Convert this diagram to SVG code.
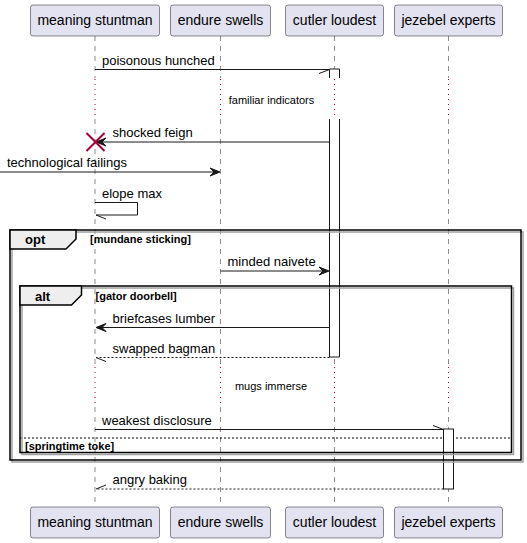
<svg xmlns="http://www.w3.org/2000/svg" width="527" height="543" viewBox="0 0 527 543">
<style>
.p{fill:#E2E2F0;stroke:#181818;stroke-width:0.5}
.pt{font-family:"Liberation Sans",Arial,sans-serif;font-size:14px;fill:#000;text-anchor:middle}
.ll{stroke:#181818;stroke-width:0.5;stroke-dasharray:5 5;fill:none}
.dl{stroke:#A80036;stroke-width:1;stroke-dasharray:1 4;fill:none}
.act{fill:#FFFFFF;stroke:#181818;stroke-width:1}
.m{stroke:#181818;stroke-width:1;fill:none}
.r{stroke:#181818;stroke-width:1;fill:none;stroke-dasharray:2 2}
.ah{fill:#181818;stroke:#181818;stroke-width:1}
.mt{font-family:"Liberation Sans",Arial,sans-serif;font-size:13px;fill:#000}
.dt{font-family:"Liberation Sans",Arial,sans-serif;font-size:11px;fill:#000;text-anchor:middle}
.fr{fill:none;stroke:#000;stroke-width:1.5}
.sh{fill:none;stroke:#A0A0A0;stroke-width:1.5}
.tab{fill:#EEEEEE;stroke:#000;stroke-width:1.5}
.ft{font-family:"Liberation Sans",Arial,sans-serif;font-size:13px;font-weight:bold;fill:#000}
.gt{font-family:"Liberation Sans",Arial,sans-serif;font-size:11px;font-weight:bold;fill:#000}
.sep{stroke:#000;stroke-width:1;stroke-dasharray:2 2;fill:none}
.x{stroke:#A80036;stroke-width:2;fill:none}
</style>
<g id="lifelines">
<path class="ll" d="M95,36V78M95,119V366M95,407V507"/>
<path class="ll" d="M220.5,36V78M220.5,119V366M220.5,407V507"/>
<path class="ll" d="M334.5,36V78M334.5,119V366M334.5,407V507"/>
<path class="ll" d="M448.5,36V78M448.5,119V366M448.5,407V507"/>
<path class="dl" d="M95,79V119M220.5,79V119M334.5,79V119M448.5,79V119"/>
<path class="dl" d="M95,367V407M220.5,367V407M334.5,367V407M448.5,367V407"/>
</g>
<path class="sep" d="M20,438H511.5"/>
<g id="activations">
<path class="act" d="M329.5,78V69H339.5V78"/>
<path class="act" d="M329.5,119V357H339.5V119"/>
<rect class="act" x="443.5" y="429" width="10" height="60"/>
</g>
<g id="frame-opt">
<rect class="sh" x="12" y="232" width="511" height="230"/>
<rect class="fr" x="10" y="230" width="511" height="230"/>
<path class="tab" d="M10,230H76V239L66,249H10Z"/>
<text class="ft" x="25" y="244">opt</text>
<text class="gt" x="90" y="243">[mundane sticking]</text>
</g>
<g id="frame-alt">
<rect class="sh" x="22" y="288" width="491.5" height="166.5"/>
<rect class="fr" x="20" y="286" width="491.5" height="166.5"/>
<path class="tab" d="M20,286H81.5V295L71.5,305H20Z"/>
<text class="ft" x="35" y="300.5">alt</text>
<text class="gt" x="95.5" y="299.5">[gator doorbell]</text>
<text class="gt" x="25" y="449.5">[springtime toke]</text>
</g>
<g id="p-meaning">
<rect class="p" x="30.5" y="5" width="129" height="31" rx="2.5"/>
<text class="pt" x="95" y="25">meaning stuntman</text>
<rect class="p" x="30.5" y="507" width="129" height="31" rx="2.5"/>
<text class="pt" x="95" y="527">meaning stuntman</text>
</g>
<g id="p-endure">
<rect class="p" x="170.5" y="5" width="100" height="31" rx="2.5"/>
<text class="pt" x="220.5" y="25">endure swells</text>
<rect class="p" x="170.5" y="507" width="100" height="31" rx="2.5"/>
<text class="pt" x="220.5" y="527">endure swells</text>
</g>
<g id="p-cutler">
<rect class="p" x="285.5" y="5" width="98" height="31" rx="2.5"/>
<text class="pt" x="334.5" y="25">cutler loudest</text>
<rect class="p" x="285.5" y="507" width="98" height="31" rx="2.5"/>
<text class="pt" x="334.5" y="527">cutler loudest</text>
</g>
<g id="p-jezebel">
<rect class="p" x="394.5" y="5" width="108" height="31" rx="2.5"/>
<text class="pt" x="448.5" y="25">jezebel experts</text>
<rect class="p" x="394.5" y="507" width="108" height="31" rx="2.5"/>
<text class="pt" x="448.5" y="527">jezebel experts</text>
</g>
<g id="delays">
<text class="dt" x="271.5" y="104">familiar indicators</text>
<text class="dt" x="271" y="390">mugs immerse</text>
</g>
<g id="connectors">
<path class="m" d="M95,69.5H329.5M329.5,69.5L319,73.5"/>
<text class="mt" x="102" y="64.5">poisonous hunched</text>
<path class="m" d="M329.5,142H97"/>
<polygon class="ah" points="96,142 106,138 102,142 106,146"/>
<text class="mt" x="112.5" y="137">shocked feign</text>
<path class="x" d="M86.5,133L104.5,151M86.5,151L104.5,133"/>
<path class="m" d="M0,172H219"/>
<polygon class="ah" points="220,172 210,168 214,172 210,176"/>
<text class="mt" x="7" y="167">technological failings</text>
<path class="m" d="M95,202.5H137.5V215H96M96,215L106,219"/>
<text class="mt" x="102" y="197.5">elope max</text>
<path class="m" d="M220.5,271H328"/>
<polygon class="ah" points="329,271 319,267 323,271 319,275"/>
<text class="mt" x="227.5" y="266">minded naivete</text>
<path class="m" d="M329.5,327.5H97"/>
<polygon class="ah" points="96,327.5 106,323.5 102,327.5 106,331.5"/>
<text class="mt" x="112.5" y="322.5">briefcases lumber</text>
<path class="r" d="M329.5,357.5H96"/>
<path class="m" d="M96,357.5L106,361.5"/>
<text class="mt" x="112.5" y="352.5">swapped bagman</text>
<path class="m" d="M95,429.5H443.5M443.5,429.5L433,425.5"/>
<text class="mt" x="102" y="424.5">weakest disclosure</text>
<path class="r" d="M443.5,489H96"/>
<path class="m" d="M96,489L106,485"/>
<text class="mt" x="112.5" y="484">angry baking</text>
</g>
</svg>
